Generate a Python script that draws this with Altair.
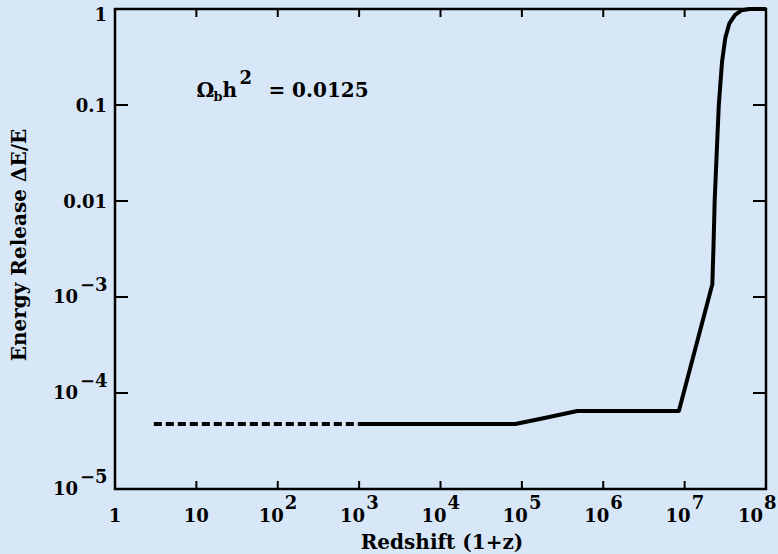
import altair as alt
import pandas as pd

# ---- data ----
x_dashed = [3, 1000]
y_dashed = [4.75e-5, 4.75e-5]

x_solid = [1000, 8.3e4, 1.9e5, 4.8e5, 8.5e6, 2.19e7, 2.26e7, 2.34e7, 2.48e7,
           2.63e7, 2.88e7, 3.16e7, 3.55e7, 4.17e7, 5.0e7, 6.3e7, 1e8]
y_solid = [4.75e-5, 4.75e-5, 5.5e-5, 6.5e-5, 6.5e-5, 1.36e-3, 3.2e-3, 1.0e-2, 3.2e-2,
           0.1, 0.28, 0.5, 0.71, 0.87, 0.97, 1.0, 1.0]

x_ticks = [1, 10, 1e2, 1e3, 1e4, 1e5, 1e6, 1e7, 1e8]
y_ticks = [1e-5, 1e-4, 1e-3, 1e-2, 1e-1, 1]

x_plain_vals = [1, 10]
x_plain_text = ["1", "10"]
x_pow_vals = [1e2, 1e3, 1e4, 1e5, 1e6, 1e7, 1e8]
x_pow_exp = ["2", "3", "4", "5", "6", "7", "8"]

y_plain_vals = [1, 0.1, 0.01]
y_plain_text = ["1", "0.1", "0.01"]
y_pow_vals = [1e-3, 1e-4, 1e-5]
y_pow_exp = ["\u22123", "\u22124", "\u22125"]

annot_x = [10]
annot_y = [0.121]

x_title = "Redshift (1+z)"
y_title = "Energy Release \u0394E/E"

# ---- layout / style ----
W, H = 651, 480
BG = "#d7e7f7"
FONT = "DejaVu Serif"
LS = 18  # tick label size
xs = alt.Scale(type="log", domain=[1, 1e8], nice=False)
ys = alt.Scale(type="log", domain=[1e-5, 1], nice=False)


def X(f="x"):
    return alt.X(f"{f}:Q", scale=xs, axis=None)


def Y(f="y"):
    return alt.Y(f"{f}:Q", scale=ys, axis=None)


solid = pd.DataFrame({"x": x_solid, "y": y_solid, "i": list(range(len(x_solid)))})
dashed = pd.DataFrame({"x": x_dashed, "y": y_dashed, "i": list(range(len(x_dashed)))})

line_solid = alt.Chart(solid).mark_line(color="black", strokeWidth=4, strokeJoin="round").encode(
    x=X(), y=Y(), order="i:O")
line_dashed = alt.Chart(dashed).mark_line(color="black", strokeWidth=4, strokeDash=[8, 4]).encode(
    x=X(), y=Y(), order="i:O")

xt = pd.DataFrame({"x": x_ticks})
yt = pd.DataFrame({"y": y_ticks})
tick_style = dict(color="black", strokeWidth=2)
bottom_ticks = alt.Chart(xt).mark_rule(**tick_style).encode(x=X(), y=alt.value(H - 8), y2=alt.value(H))
top_ticks = alt.Chart(xt).mark_rule(**tick_style).encode(x=X(), y=alt.value(0), y2=alt.value(8))
left_ticks = alt.Chart(yt).mark_rule(**tick_style).encode(y=Y(), x=alt.value(0), x2=alt.value(13))
right_ticks = alt.Chart(yt).mark_rule(**tick_style).encode(y=Y(), x=alt.value(W - 13), x2=alt.value(W))

txt = dict(font=FONT, fontWeight="bold", color="black")

# x labels
xp = pd.DataFrame({"x": x_plain_vals, "t": x_plain_text})
x_plain = alt.Chart(xp).mark_text(align="center", baseline="alphabetic", fontSize=LS, **txt).encode(
    x=X(), y=alt.value(513), text="t:N")
xw = pd.DataFrame({"x": x_pow_vals, "e": x_pow_exp})
x_base = alt.Chart(xw).transform_filter("datum.x < 5e7").mark_text(
    align="right", baseline="alphabetic", fontSize=LS, dx=6, **txt).encode(
    x=X(), y=alt.value(513), text=alt.value("10"))
x_exp = alt.Chart(xw).transform_filter("datum.x < 5e7").mark_text(
    align="left", baseline="alphabetic", fontSize=LS, dx=7, **txt).encode(
    x=X(), y=alt.value(500), text="e:N")
x_base_last = alt.Chart(xw).transform_filter("datum.x > 5e7").mark_text(
    align="right", baseline="alphabetic", fontSize=LS, dx=-3, **txt).encode(
    x=X(), y=alt.value(513), text=alt.value("10"))
x_exp_last = alt.Chart(xw).transform_filter("datum.x > 5e7").mark_text(
    align="left", baseline="alphabetic", fontSize=LS, dx=-2, **txt).encode(
    x=X(), y=alt.value(500), text="e:N")

# y labels
yp = pd.DataFrame({"y": y_plain_vals, "t": y_plain_text})
y_plain = alt.Chart(yp).transform_filter("datum.y < 0.5").mark_text(
    align="right", baseline="middle", fontSize=LS, dx=-8, dy=2, **txt).encode(
    y=Y(), x=alt.value(0), text="t:N")
y_plain_top = alt.Chart(yp).transform_filter("datum.y > 0.5").mark_text(
    align="right", baseline="middle", fontSize=LS, dx=-8, dy=7, **txt).encode(
    y=Y(), x=alt.value(0), text="t:N")
yw = pd.DataFrame({"y": y_pow_vals, "e": y_pow_exp})
y_base = alt.Chart(yw).mark_text(
    align="right", baseline="middle", fontSize=LS, dx=-37, dy=1, **txt).encode(
    y=Y(), x=alt.value(0), text=alt.value("10"))
y_exp = alt.Chart(yw).mark_text(
    align="left", baseline="middle", fontSize=LS, dx=-35, dy=-11, **txt).encode(
    y=Y(), x=alt.value(0), text="e:N")

# axis titles
xtitle = alt.Chart(pd.DataFrame({"t": [x_title]})).mark_text(
    align="center", baseline="alphabetic", fontSize=20, **txt).encode(
    x=alt.value(442 - 115), y=alt.value(549 - 9), text="t:N")
ytitle = alt.Chart(pd.DataFrame({"t": [y_title]})).mark_text(
    align="center", baseline="middle", fontSize=20, angle=270, **txt).encode(
    x=alt.value(20 - 115), y=alt.value(245 - 9), text="t:N")

# annotation  Omega_b h^2 = 0.0125
ad = pd.DataFrame({"x": annot_x, "y": annot_y})


def piece(s, size, dx, dy=0):
    return alt.Chart(ad).mark_text(align="left", baseline="alphabetic", fontSize=size,
                                   dx=dx, dy=dy, **txt).encode(
        x=X(), y=Y(), text=alt.value(s))


annot = [
    piece("\u03a9", 20, 0),
    piece("b", 13, 17, 4),
    piece("h", 20, 26),
    piece("2", 18, 43, -13),
    piece("= 0.0125", 20, 72),
]

chart = alt.layer(
    bottom_ticks, top_ticks, left_ticks, right_ticks,
    line_dashed, line_solid,
    x_plain, x_base, x_exp, x_base_last, x_exp_last,
    y_plain, y_plain_top, y_base, y_exp,
    xtitle, ytitle, *annot,
).properties(
    width=W, height=H,
    padding={"left": 115, "top": 9, "right": 12, "bottom": 65},
    autosize=alt.AutoSizeParams(type="none"),
    background=BG,
).configure_view(stroke="black", strokeWidth=2.5)

chart.save("out.html", embed_options={"renderer": "svg", "actions": False})
